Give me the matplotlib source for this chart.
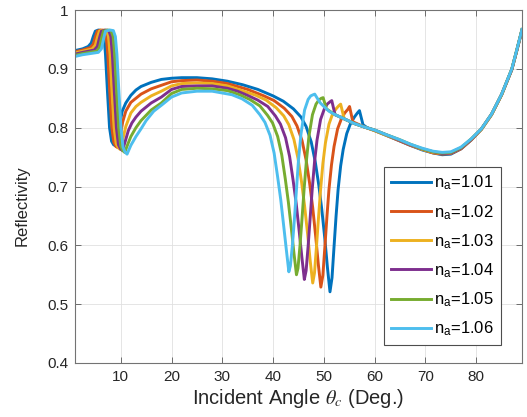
import matplotlib
matplotlib.use('Agg')
from matplotlib import pyplot as plt
from matplotlib.ticker import FuncFormatter

# reflectivity curves, one pair of lists per n_a
theta_101 = [1.0, 2.5, 3.6, 4.2, 4.6, 5.0, 5.6, 6.3, 6.7, 7.0, 7.4, 7.8, 8.2, 8.6, 9.0, 9.4, 9.8, 10.3, 11.0, 12.0,
             13.0, 14.0, 16.0, 18.0, 20, 22, 25, 28, 31, 34, 37, 40.0, 42.0, 44.0, 45.5, 46.5, 47.5, 48.3, 49.0, 49.6,
             50.2, 50.7, 51.2, 51.6, 52.0, 52.4, 52.8, 53.3, 53.8, 54.5, 55.2, 56.0, 56.6, 57.0, 57.7, 58.5]
refl_101 = [0.931, 0.934, 0.938, 0.944, 0.955, 0.964, 0.966, 0.965, 0.955, 0.925, 0.860, 0.800, 0.777, 0.771, 0.769,
            0.780, 0.805, 0.828, 0.842, 0.855, 0.864, 0.870, 0.877, 0.882, 0.884, 0.885, 0.885, 0.883, 0.879, 0.873,
            0.865, 0.854, 0.845, 0.832, 0.818, 0.802, 0.776, 0.742, 0.702, 0.660, 0.610, 0.562, 0.521, 0.545, 0.598,
            0.650, 0.695, 0.735, 0.763, 0.790, 0.806, 0.818, 0.825, 0.829, 0.805, 0.800]

theta_102 = [1.0, 2.5, 4.0, 4.6, 5.0, 5.4, 6.05, 6.75, 7.15, 7.45, 7.85, 8.25, 8.65, 9.05, 9.45, 9.9, 10.4, 11.0, 12.0,
             13.0, 14.0, 16.0, 18.0, 20, 22, 25, 28, 31, 35.0, 38.2, 40.2, 42.2, 43.7, 44.7, 45.7, 46.5, 47.2, 47.8,
             48.4, 48.9, 49.4, 49.8, 50.2, 50.6, 51.0, 51.5, 52.0, 52.7, 53.4, 54.1, 54.7, 55.05, 55.7, 58.0]
refl_102 = [0.929, 0.932, 0.936, 0.942, 0.954, 0.964, 0.966, 0.965, 0.955, 0.925, 0.860, 0.800, 0.775, 0.768, 0.766,
            0.785, 0.810, 0.828, 0.843, 0.850, 0.857, 0.866, 0.872, 0.878, 0.880, 0.881, 0.879, 0.875, 0.865, 0.854,
            0.846, 0.833, 0.819, 0.803, 0.778, 0.745, 0.705, 0.664, 0.614, 0.568, 0.529, 0.549, 0.598, 0.649, 0.695,
            0.737, 0.768, 0.798, 0.814, 0.825, 0.831, 0.836, 0.810, 0.801]

theta_103 = [1.0, 2.5, 4.4, 5.0, 5.4, 5.8, 6.5, 7.2, 7.6, 7.9, 8.3, 8.7, 9.1, 9.5, 9.9, 10.4, 11.0, 12.0, 13.0, 14.0,
             16.0, 18.0, 20, 22, 25, 28, 31, 33.5, 36.6, 38.6, 40.6, 42.1, 43.1, 44.1, 44.9, 45.6, 46.2, 46.8, 47.3,
             47.8, 48.15, 48.55, 48.95, 49.35, 49.8, 50.3, 51.0, 51.7, 52.4, 52.9, 53.3, 54.0, 56.0, 58.0]
refl_103 = [0.927, 0.930, 0.934, 0.940, 0.953, 0.964, 0.966, 0.965, 0.955, 0.925, 0.860, 0.800, 0.773, 0.766, 0.763,
            0.780, 0.802, 0.825, 0.836, 0.843, 0.854, 0.862, 0.871, 0.875, 0.876, 0.875, 0.871, 0.864, 0.855, 0.847,
            0.834, 0.820, 0.805, 0.780, 0.748, 0.708, 0.667, 0.619, 0.574, 0.536, 0.553, 0.599, 0.648, 0.695, 0.739,
            0.774, 0.806, 0.823, 0.832, 0.837, 0.840, 0.815, 0.807, 0.801]

theta_104 = [1.0, 2.5, 4.8, 5.4, 5.8, 6.2, 6.95, 7.65, 8.05, 8.35, 8.75, 9.15, 9.55, 9.95, 10.35, 10.9, 11.5, 12.2,
             13.0, 14.0, 16.0, 18.0, 20, 22, 25, 28, 31, 33, 34.95, 36.95, 38.95, 40.45, 41.45, 42.45, 43.25, 43.95,
             44.55, 45.15, 45.65, 46.15, 46.5, 46.9, 47.3, 47.7, 48.15, 48.65, 49.35, 50.05, 50.65, 51.2, 51.55, 52.2,
             54.0, 56.0, 58.0]
refl_104 = [0.925, 0.928, 0.932, 0.938, 0.952, 0.964, 0.966, 0.965, 0.955, 0.925, 0.860, 0.800, 0.771, 0.764, 0.761,
            0.777, 0.795, 0.808, 0.818, 0.828, 0.842, 0.852, 0.865, 0.870, 0.871, 0.871, 0.867, 0.862, 0.855, 0.847,
            0.836, 0.820, 0.806, 0.783, 0.751, 0.710, 0.671, 0.623, 0.581, 0.542, 0.557, 0.599, 0.647, 0.695, 0.741,
            0.779, 0.814, 0.831, 0.840, 0.844, 0.846, 0.822, 0.815, 0.807, 0.801]

theta_105 = [1.0, 2.5, 5.2, 5.8, 6.2, 6.6, 7.4, 8.1, 8.5, 8.8, 9.2, 9.6, 10.0, 10.4, 10.8, 11.4, 12.0, 13.0, 14.0,
             16.0, 18.0, 20, 22, 25, 28, 31, 33.4, 35.4, 37.4, 38.9, 39.9, 40.9, 41.7, 42.4, 43.0, 43.6, 44.1, 44.6,
             44.9, 45.3, 45.7, 46.1, 46.55, 47.05, 47.75, 48.45, 49.0, 49.5, 49.85, 50.5, 52.0, 54.0, 56.0, 58.0]
refl_105 = [0.923, 0.926, 0.930, 0.936, 0.951, 0.964, 0.966, 0.965, 0.955, 0.925, 0.860, 0.800, 0.769, 0.761, 0.758,
            0.772, 0.785, 0.800, 0.812, 0.830, 0.842, 0.858, 0.865, 0.867, 0.866, 0.863, 0.856, 0.848, 0.837, 0.821,
            0.808, 0.785, 0.754, 0.713, 0.674, 0.628, 0.587, 0.550, 0.561, 0.600, 0.646, 0.695, 0.743, 0.785, 0.822,
            0.840, 0.847, 0.850, 0.851, 0.832, 0.823, 0.815, 0.807, 0.801]

theta_106 = [1.0, 2.5, 5.6, 6.2, 6.6, 7.0, 7.85, 8.55, 8.95, 9.25, 9.65, 10.05, 10.45, 10.85, 11.25, 12.0, 13.0, 14.0,
             15.0, 16.5, 18.0, 20, 22, 25, 28, 31.9, 33.9, 35.9, 37.4, 38.4, 39.4, 40.2, 40.9, 41.5, 42.1, 42.6, 43.1,
             43.4, 43.8, 44.2, 44.6, 45.0, 45.5, 46.2, 46.9, 47.4, 47.9, 48.2, 48.7, 49.3, 50.0, 51.0, 52.0, 54.0,
             56.0, 58.0]
refl_106 = [0.921, 0.924, 0.928, 0.934, 0.950, 0.964, 0.966, 0.965, 0.955, 0.925, 0.860, 0.800, 0.767, 0.7585, 0.755,
            0.770, 0.785, 0.798, 0.812, 0.828, 0.838, 0.852, 0.859, 0.862, 0.862, 0.856, 0.849, 0.838, 0.822, 0.809,
            0.787, 0.757, 0.716, 0.678, 0.632, 0.593, 0.555, 0.565, 0.600, 0.645, 0.695, 0.745, 0.790, 0.830, 0.848,
            0.854, 0.856, 0.857, 0.850, 0.842, 0.836, 0.828, 0.823, 0.815, 0.807, 0.801]

# above 60 deg the curves nearly coincide
tail_theta = [60, 62, 64.8, 67, 69.4, 71.5, 73.3, 75, 77, 79, 81, 83, 85, 87, 88, 89]
tail_101 = [0.795, 0.788, 0.778, 0.770, 0.762, 0.757, 0.754, 0.755, 0.764, 0.779, 0.797, 0.822, 0.856, 0.899, 0.932, 0.966]
tail_102 = [0.795, 0.788, 0.778, 0.770, 0.763, 0.757, 0.755, 0.756, 0.764, 0.779, 0.797, 0.822, 0.856, 0.899, 0.932, 0.966]
tail_103 = [0.795, 0.788, 0.779, 0.771, 0.763, 0.758, 0.756, 0.757, 0.765, 0.780, 0.797, 0.822, 0.856, 0.899, 0.932, 0.966]
tail_104 = [0.796, 0.789, 0.779, 0.771, 0.764, 0.759, 0.756, 0.757, 0.765, 0.780, 0.798, 0.823, 0.857, 0.899, 0.932, 0.966]
tail_105 = [0.796, 0.789, 0.780, 0.772, 0.764, 0.759, 0.757, 0.758, 0.766, 0.781, 0.798, 0.823, 0.857, 0.900, 0.933, 0.967]
tail_106 = [0.796, 0.789, 0.780, 0.772, 0.765, 0.760, 0.758, 0.759, 0.767, 0.781, 0.798, 0.823, 0.857, 0.900, 0.933, 0.967]

labels = ['1.01', '1.02', '1.03', '1.04', '1.05', '1.06']
colors = ['#0072BD', '#D95319', '#EDB120', '#7E2F8E', '#77AC30', '#4DBEEE']

plt.rcParams['font.family'] = ['Liberation Sans', 'DejaVu Sans']
plt.rcParams['mathtext.fontset'] = 'stix'

series = [(theta_101, refl_101, tail_101), (theta_102, refl_102, tail_102), (theta_103, refl_103, tail_103),
          (theta_104, refl_104, tail_104), (theta_105, refl_105, tail_105), (theta_106, refl_106, tail_106)]

fig = plt.figure(figsize=(5.27, 4.17), dpi=100)
ax = fig.add_axes([0.1423, 0.1295, 0.8482, 0.8465])

for (th, r, tail), lab, c in zip(series, labels, colors):
    ax.plot(th + tail_theta, r + tail, color=c, lw=2.1, label=r'$\mathregular{n_a}$=' + lab)

ax.set_xlim(1, 89)
ax.set_ylim(0.4, 1.0)
ax.set_xticks(range(10, 90, 10))
ax.set_yticks([0.4, 0.5, 0.6, 0.7, 0.8, 0.9, 1.0])
ax.yaxis.set_major_formatter(FuncFormatter(lambda v, p: '%g' % v))
ax.grid(True, color='0.88', lw=0.6)
ax.set_axisbelow(True)
ax.tick_params(direction='in', top=True, right=True, length=4, width=0.6, color='0.35',
               labelsize=11, labelcolor='#262626', pad=5)
for sp in ax.spines.values():
    sp.set_color('0.45')
    sp.set_linewidth(0.8)

ax.set_xlabel(r'Incident Angle $\theta_c$ (Deg.)', size=14.5, color='#262626', labelpad=2)
ax.set_ylabel('Reflectivity', size=12, color='#262626')
ax.yaxis.set_label_coords(-0.102, 0.445)

leg = ax.legend(loc='lower right', bbox_to_anchor=(0.953, 0.051), borderaxespad=0, fontsize=12,
                frameon=True, fancybox=False, edgecolor='0.3', framealpha=1, labelspacing=0.63,
                handlelength=2.4, handletextpad=0.2, borderpad=0.4)
leg.get_frame().set_linewidth(0.8)

fig.savefig('out.png', dpi=100)
